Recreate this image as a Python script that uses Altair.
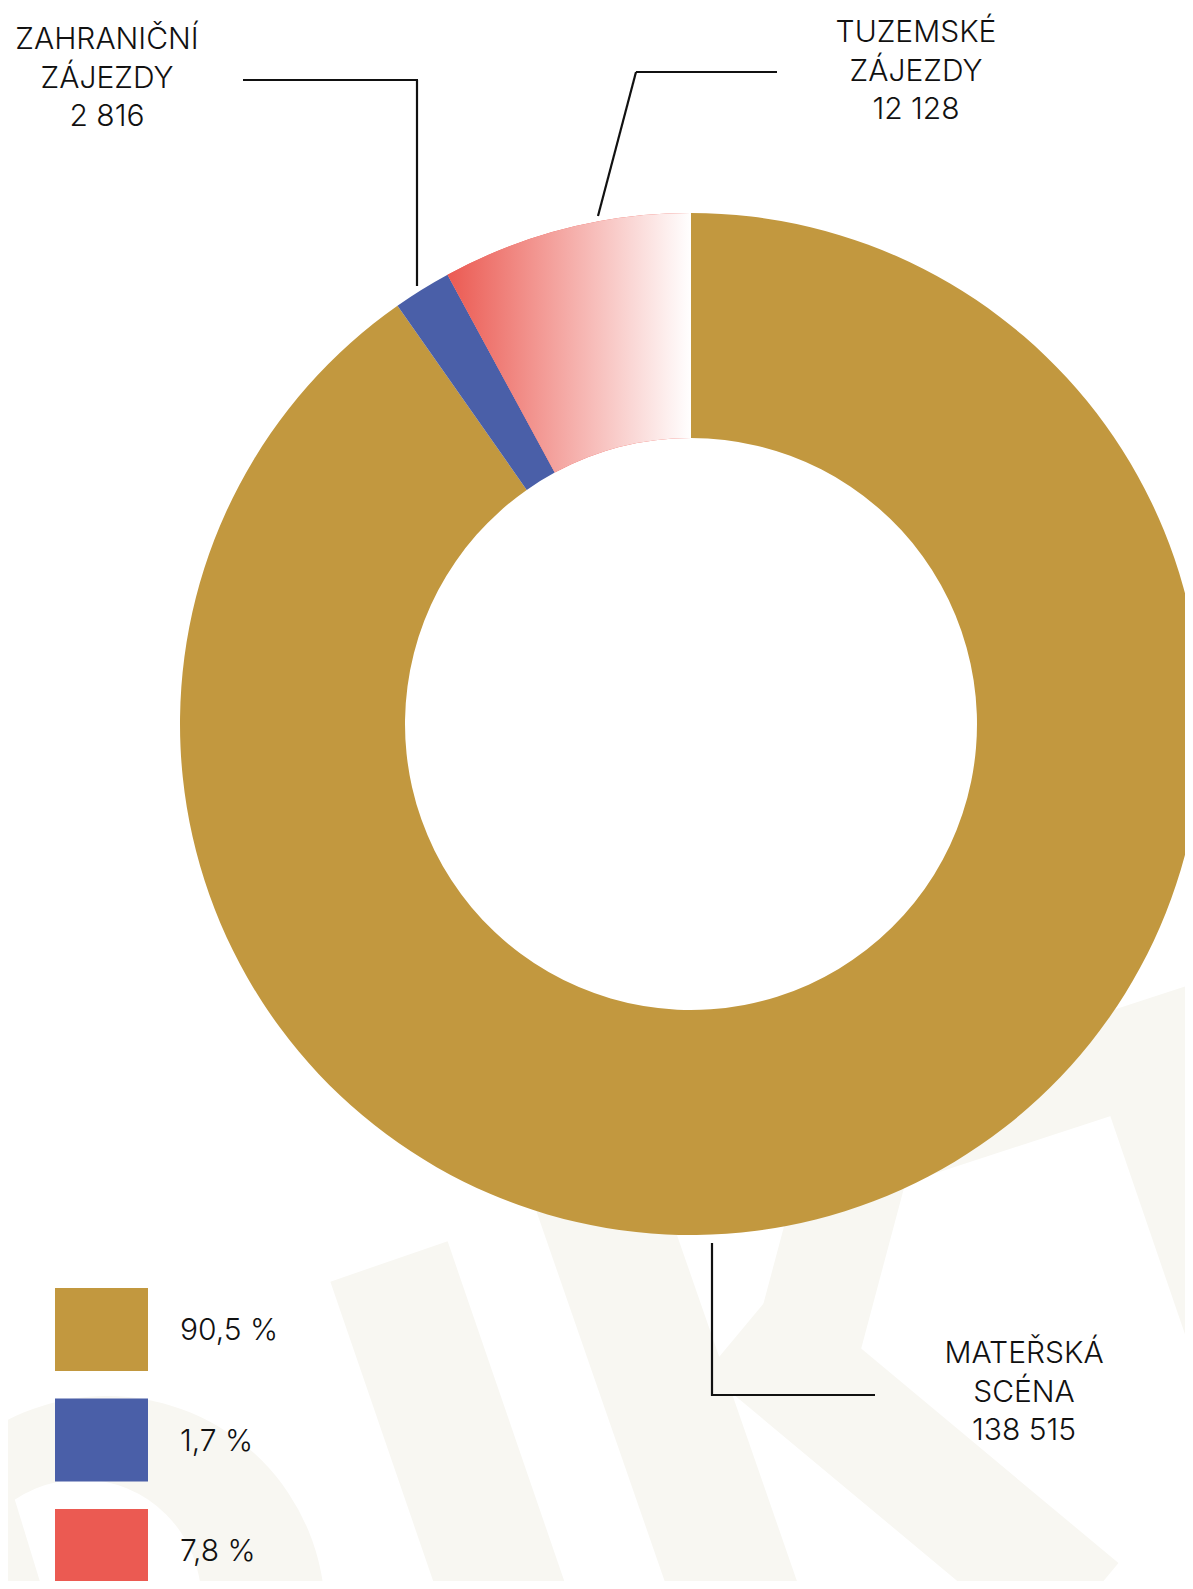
import math
import altair as alt
import pandas as pd

categories = ["Mateřská scéna", "Zahraniční zájezdy", "Tuzemské zájezdy"]
visitors = [138515, 2816, 12128]
shares = ["90,5 %", "1,7 %", "7,8 %"]
colors = ["#C2983F", "#4A5FA8", "#EB5A52"]
label_mat = ["MATEŘSKÁ", "SCÉNA", "138 515"]
label_zahr = ["ZAHRANIČNÍ", "ZÁJEZDY", "2 816"]
label_tuz = ["TUZEMSKÉ", "ZÁJEZDY", "12 128"]

W, H = 1177, 1573
FONT = "Inter"
BEIGE = "#F8F7F2"
CX, CY, R_OUT, R_IN = 683, 716, 511, 286
OFF = 8  # page margin, decoration coordinates below are page pixels
total = sum(visitors)

df = pd.DataFrame({"cat": categories, "value": visitors,
                   "order": list(range(len(categories))), "share": shares})
one = pd.DataFrame({"k": [0]})

# ---- faint background lettering (decoration) ----
def band(x1, y1, x2, y2, w):
    return alt.Chart(one).mark_rule(color=BEIGE, strokeWidth=w, strokeCap="butt").encode(
        x=alt.value(x1 - OFF), y=alt.value(y1 - OFF),
        x2=alt.value(x2 - OFF), y2=alt.value(y2 - OFF))

def disc(x, y, r, color):
    return alt.Chart(one).mark_circle(size=math.pi * r * r, color=color, opacity=1).encode(
        x=alt.value(x - OFF), y=alt.value(y - OFF))

deco = [
    disc(107, 1614, 246, BEIGE),
    disc(81.5, 1599, 135, "#FFFFFF"),
    band(-61, 1423, 12, 1661, 100),          # left leg of the arch
    band(389, 1261.5, 521, 1646, 124),       # slanted stroke
    band(564, 1100, 746, 1625, 125),         # K stem
    band(855, 1166, 791, 1406, 106),         # K arm
    band(744, 1327, 1081, 1608, 117),        # K leg
    band(907, 1130, 1237, 1022, 100),        # bar on the right
    band(1159, 1067, 1349, 1622, 124),       # right stem
]

# ---- donut ----
base = alt.Chart(df).transform_window(
    cum="sum(value)", sort=[alt.SortField("order")], frame=[None, 0]
).transform_calculate(start="datum.cum - datum.value")

theta_scale = alt.Scale(domain=[0, total], range=[0, 2 * math.pi])
color_scale = alt.Scale(domain=categories, range=colors)

ring = base.mark_arc(strokeWidth=0).encode(
    theta=alt.Theta("start:Q", scale=theta_scale),
    theta2="cum:Q",
    fill=alt.Fill("cat:N", scale=color_scale, legend=None),
    x=alt.value(CX), y=alt.value(CY),
    radius=alt.value(R_OUT), radius2=alt.value(R_IN),
)

grad = alt.Gradient(
    gradient="linear",
    stops=[alt.GradientStop(color="#EB5A52", offset=0),
           alt.GradientStop(color="#FFFFFF", offset=1)],
    x1=0, x2=1, y1=0, y2=0,
)
red_grad = base.transform_filter(alt.datum.cat == "Tuzemské zájezdy").mark_arc(
    fill=grad, strokeWidth=0
).encode(
    theta=alt.Theta("start:Q", scale=theta_scale),
    theta2="cum:Q",
    x=alt.value(CX), y=alt.value(CY),
    radius=alt.value(R_OUT), radius2=alt.value(R_IN),
)

# ---- leader lines ----
def seg(x1, y1, x2, y2):
    return alt.Chart(one).mark_rule(color="#111111", strokeWidth=2.2).encode(
        x=alt.value(x1), y=alt.value(y1), x2=alt.value(x2), y2=alt.value(y2))

lines = [
    seg(235, 72, 410, 72), seg(409, 72, 409, 278),
    seg(628, 64, 769, 64), seg(628, 64, 590, 208),
    seg(704, 1235, 704, 1388), seg(703, 1387, 867, 1387),
]

def label(lines_, x, y):
    return alt.Chart(one).mark_text(
        font=FONT, fontSize=30, fontWeight=300, color="#111111",
        align="center", baseline="alphabetic", lineHeight=38.5,
    ).encode(x=alt.value(x), y=alt.value(y), text=alt.value(lines_))

labels = [label(label_zahr, 99, 41), label(label_tuz, 908, 34),
          label(label_mat, 1016, 1355)]

# ---- legend ----
leg_y = alt.Y("cat:N", scale=alt.Scale(type="point", domain=categories,
                                       range=[1321.5, 1542.5], padding=0),
              axis=None)
leg_rect = alt.Chart(df).mark_rect(height=83).encode(
    x=alt.value(47), x2=alt.value(140), y=leg_y,
    fill=alt.Fill("cat:N", scale=color_scale, legend=None),
)
leg_text = alt.Chart(df).mark_text(
    font=FONT, fontSize=30, fontWeight=300, color="#111111",
    align="left", baseline="alphabetic", dy=10.5,
).encode(x=alt.value(172), y=leg_y, text="share:N")

chart = alt.layer(*deco, ring, red_grad, *lines, *labels, leg_rect, leg_text).properties(
    width=W, height=H, padding=0,
    autosize=alt.AutoSizeParams(type="none"),
    background="#FFFFFF",
).configure_view(strokeWidth=0)

chart.save("out.html", embed_options={"renderer": "svg", "actions": False})
